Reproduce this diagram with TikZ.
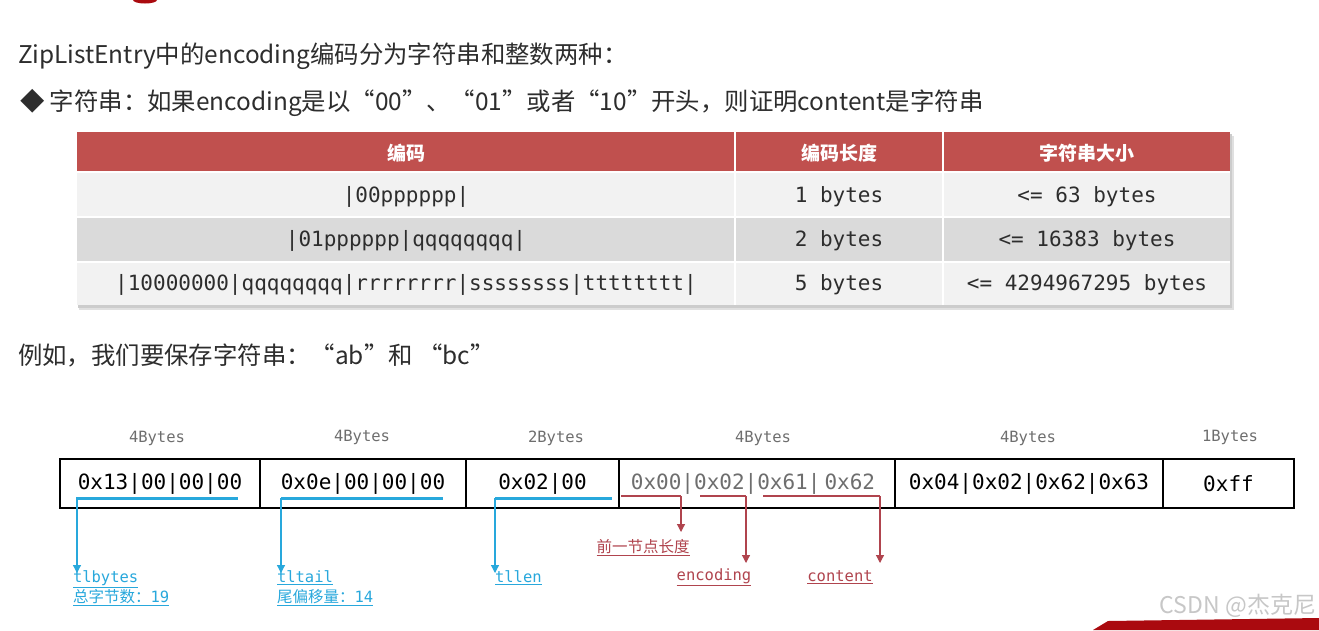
\documentclass[tikz,border=0pt]{standalone}
\usepackage{fontspec}
\setmainfont{Noto Sans CJK SC}
\newfontfamily\monof{DejaVu Sans Mono}
\usetikzlibrary{arrows.meta}
\definecolor{txt}{RGB}{45,45,45}
\definecolor{hdr}{RGB}{192,80,78}
\definecolor{rowa}{RGB}{242,242,242}
\definecolor{rowb}{RGB}{218,218,218}
\definecolor{lblgray}{RGB}{110,110,110}
\definecolor{cblue}{RGB}{40,168,220}
\definecolor{cred}{RGB}{176,68,78}
\definecolor{bannerred}{RGB}{170,10,15}
\begin{document}
\begin{tikzpicture}[x=1pt,y=-1pt,
  every node/.style={inner sep=0pt,outer sep=0pt},
  titletxt/.style={anchor=west,text=txt,font=\fontsize{24.4}{28}\selectfont},
  hdrtxt/.style={text=white,font=\fontsize{19}{22}\selectfont\bfseries},
  celltxt/.style={text=txt,font=\monof\fontsize{21}{24}\selectfont},
  bytelbl/.style={text=lblgray,font=\monof\fontsize{15.5}{18}\selectfont},
  cellbox/.style={draw=black,line width=2.5pt,minimum height=49pt,anchor=west,text=black,font=\monof\fontsize{21}{24}\selectfont},
  blulbl/.style={anchor=north west,align=left,text=cblue,font=\fontsize{15.5}{20}\selectfont},
  redlbl/.style={text=cred,font=\fontsize{15.5}{19}\selectfont},
  blueline/.style={draw=cblue,line width=3pt},
  redline/.style={draw=cred,line width=2.5pt},
  bluearrow/.style={draw=cblue,line width=1.2pt,-{Triangle[width=8pt,length=8pt]}},
  redarrow/.style={draw=cred,line width=1.2pt,-{Triangle[width=8pt,length=8pt]}}
]
\useasboundingbox[fill=white] (0,0) rectangle (1319,630);

% cut-off fragments at the edges
\fill[bannerred] (145,0) ellipse (12 and 3.5);
\fill[bannerred] (1093,630) -- (1108,621) -- (1319,618) -- (1319,630) -- cycle;

% titles
\node[titletxt] (t1) at (18,56) {ZipListEntry中的encoding编码分为字符串和整数两种：};
\node[titletxt] (t2) at (20,103) {◆ 字符串：如果encoding是以“00”、“01”或者“10”开头，则证明content是字符串};
\node[titletxt] (t3) at (18,355) {例如，我们要保存字符串：“ab”和 “bc”};

% table shadow
\fill[black!12] (79,136) rectangle (1234,310);
\fill[black!20] (78,134) rectangle (1232,308);
% table
\fill[hdr] (77,132) rectangle (1230,172);
\fill[rowa] (77,172) rectangle (1230,217);
\fill[rowb] (77,217) rectangle (1230,262);
\fill[rowa] (77,262) rectangle (1230,305);
\draw[white,line width=1.5pt] (77,172) -- (1230,172) (77,217) -- (1230,217) (77,262) -- (1230,262)
  (735,132) -- (735,305) (943,132) -- (943,305);

\node[hdrtxt] (h1) at (406,153) {编码};
\node[hdrtxt] (h2) at (839,153) {编码长度};
\node[hdrtxt] (h3) at (1087,153) {字符串大小};

\node[celltxt] (c11) at (406,197) {|00pppppp|};
\node[celltxt] (c12) at (839,197) {1 bytes};
\node[celltxt] (c13) at (1087,197) {<= 63 bytes};
\node[celltxt] (c21) at (406,241) {|01pppppp|qqqqqqqq|};
\node[celltxt] (c22) at (839,241) {2 bytes};
\node[celltxt] (c23) at (1087,241) {<= 16383 bytes};
\node[celltxt] (c31) at (406,285) {|10000000|qqqqqqqq|rrrrrrrr|ssssssss|tttttttt|};
\node[celltxt] (c32) at (839,285) {5 bytes};
\node[celltxt] (c33) at (1087,285) {<= 4294967295 bytes};

% byte size labels
\node[bytelbl] (b1) at (157,438) {4Bytes};
\node[bytelbl] (b2) at (362,437) {4Bytes};
\node[bytelbl] (b3) at (556,438) {2Bytes};
\node[bytelbl] (b4) at (763,438) {4Bytes};
\node[bytelbl] (b5) at (1028,438) {4Bytes};
\node[bytelbl] (b6) at (1230,437) {1Bytes};

% ziplist cells
\node[cellbox,minimum width=200pt] (f1) at (60,483.5) {0x13|00|00|00};
\node[cellbox,minimum width=206pt] (f2) at (260,483.5) {0x0e|00|00|00};
\node[cellbox,minimum width=153pt] (f3) at (466,483.5) {0x02|00};
\node[cellbox,minimum width=276pt,text=lblgray] (f4) at (619,483.5) {\hspace{-8pt}0x00|0x02|0x61|\hspace{4pt}0x62};
\node[cellbox,minimum width=268pt] (f5) at (895,483.5) {0x04|0x02|0x62|0x63};
\node[cellbox,minimum width=131pt] (f6) at (1163,483.5) {0xff};

% blue underlines
\draw[blueline] (76,498) -- (238,498);
\draw[blueline] (281,498) -- (443,498);
\draw[blueline] (495,498) -- (612,498);
\coordinate (u1) at (77,498);
\coordinate (u2) at (281,498);
\coordinate (u3) at (495,498);

% blue labels
\node[blulbl] (l1) at (73,571) {\underline{\monof tlbytes}\\\underline{总字节数：{\monof 19}}};
\node[blulbl] (l2) at (277,571) {\underline{\monof tltail}\\\underline{尾偏移量：{\monof 14}}};
\node[blulbl] (l3) at (495,571) {\underline{\monof tllen}};

\draw[bluearrow] (u1) -- ([yshift=-2pt]u1 |- l1.north);
\draw[bluearrow] (u2) -- ([yshift=-2pt]u2 |- l2.north);
\draw[bluearrow] (u3) -- ([yshift=-2pt]u3 |- l3.north);

% red underlines
\draw[redline] (621,496) -- (681,496);
\draw[redline] (700,496) -- (746,496);
\draw[redline] (763,496) -- (880,496);
\coordinate (r1) at (681,496);
\coordinate (r2) at (746,496);
\coordinate (r3) at (880,496);
\coordinate (r1e) at (681,532);
\coordinate (r2e) at (746,563);
\coordinate (r3e) at (880,563);

% red labels
\node[redlbl] (p1) at (643,548) {\underline{前一节点长度}};
\node[redlbl] (p2) at (714,577) {\underline{\monof encoding}};
\node[redlbl] (p3) at (840,577) {\underline{\monof content}};

\draw[redarrow] (r1) -- (r1e);
\draw[redarrow] (r2) -- (r2e);
\draw[redarrow] (r3) -- (r3e);

% watermark
\node[anchor=east,text=black!22,font=\fontsize{23}{26}\selectfont] (wm) at (1316,606) {CSDN @杰克尼};
\end{tikzpicture}
\end{document}
